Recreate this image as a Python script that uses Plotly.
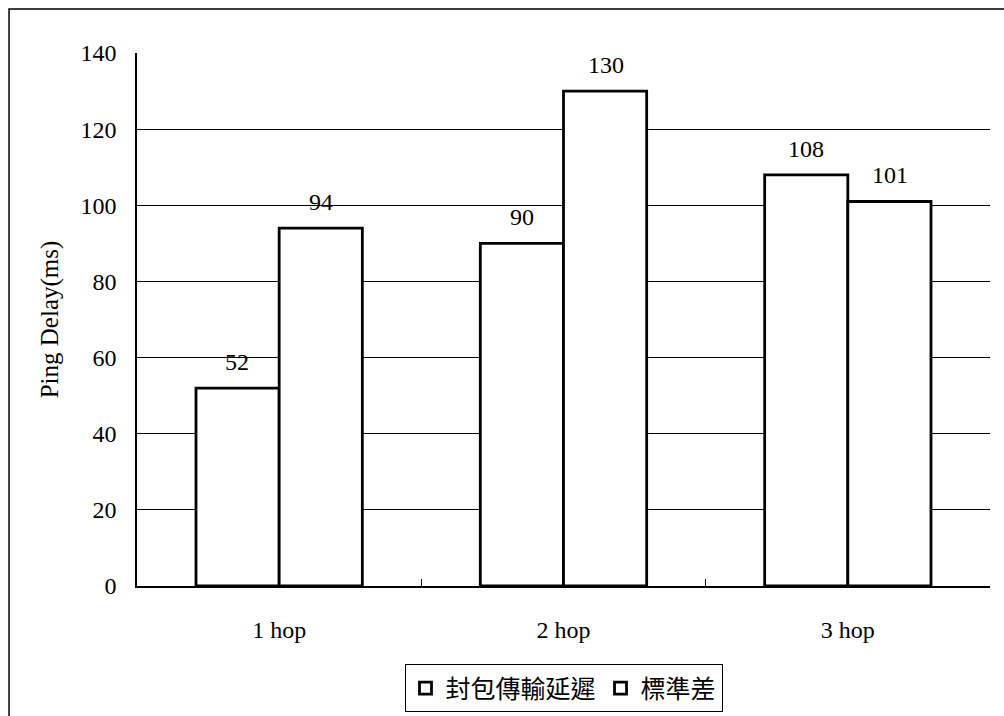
import plotly.graph_objects as go

hops = ["1 hop", "2 hop", "3 hop"]
delay = [52, 90, 108]
stdev = [94, 130, 101]
series_names = ["封包傳輸延遲", "標準差"]

serif = "Liberation Serif"
cjk = "Noto Sans CJK TC"

fig = go.Figure()
fig.add_trace(go.Bar(x=hops, y=delay, name=series_names[0],
                     marker=dict(color="white", line=dict(color="black", width=2.8))))
fig.add_trace(go.Bar(x=hops, y=stdev, name=series_names[1],
                     marker=dict(color="white", line=dict(color="black", width=2.8))))

# value labels above each bar
for vals, shift in [(delay, -42), (stdev, 42)]:
    for h, v in zip(hops, vals):
        fig.add_annotation(x=h, y=v, text=str(v), showarrow=False, xref="x", yref="y",
                           xshift=shift, yshift=26, font=dict(family=serif, size=24, color="black"))

# outer frame
fig.add_shape(type="rect", xref="paper", yref="paper", x0=-0.150, x1=1.03, y0=-0.26, y1=1.0826,
              line=dict(color="black", width=1.5), layer="below")

fig.update_layout(
    width=1004, height=716,
    margin=dict(l=137, r=14, t=53, b=130),
    paper_bgcolor="white", plot_bgcolor="white",
    barmode="group", bargap=0.415, bargroupgap=0,
    showlegend=True,
    legend=dict(orientation="h", x=0.5, xanchor="center", yref="container", y=0.072, yanchor="top",
                bordercolor="black", borderwidth=1, font=dict(family=cjk, size=25, color="black"),
                traceorder="normal", tracegroupgap=0, itemwidth=30),
    font=dict(family=serif, color="black"),
)
fig.update_xaxes(showline=True, linecolor="black", linewidth=1.5, ticks="inside", tickson="boundaries",
                 ticklen=7, tickcolor="black", tickfont=dict(family=serif, size=24, color="black"),
                 ticklabelstandoff=21)
fig.update_yaxes(range=[0, 140], dtick=20, showline=True, linecolor="black", linewidth=1.5,
                 showgrid=True, gridcolor="black", gridwidth=1, zeroline=False,
                 ticks="", tickfont=dict(family=serif, size=24, color="black"), ticklabelstandoff=14,
                 title=dict(text="Ping Delay(ms)", font=dict(family=serif, size=25, color="black"), standoff=15))

# drop the default 8px page margin so the figure sits at the window corner
fig.write_html("out.html", config={"displayModeBar": False},
               post_script="document.body.style.margin='0';")
